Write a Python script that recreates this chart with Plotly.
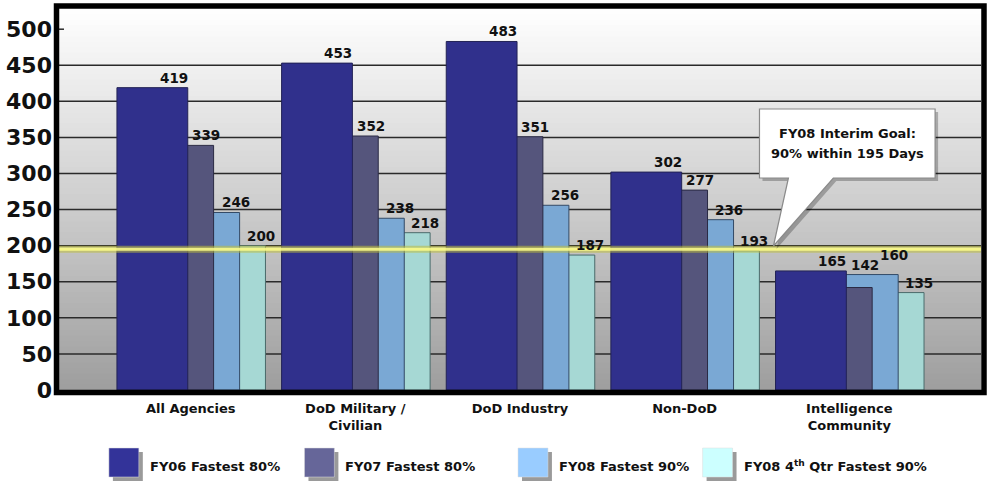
import plotly.graph_objects as go

# ---------------- data ----------------
categories = ["All Agencies", "DoD Military /<br>Civilian", "DoD Industry", "Non-DoD", "Intelligence<br>Community"]
series_names = ["FY06 Fastest 80%", "FY07 Fastest 80%", "FY08 Fastest 90%", "FY08 4<sup>th</sup> Qtr Fastest 90%"]
fy06 = [419, 453, 483, 302, 165]
fy07 = [339, 352, 351, 277, 142]
fy08 = [246, 238, 256, 236, 160]
fy08_q4 = [200, 218, 187, 193, 135]
goal_value = 195
goal_text = ["FY08 Interim Goal:", "90% within 195 Days"]
y_ticks = [0, 50, 100, 150, 200, 250, 300, 350, 400, 450, 500]

series_values = [fy06, fy07, fy08, fy08_q4]

# ---------------- style ----------------
W, H = 987, 481
ML, MR, MT, MB = 57, 6, 9, 91
PW, PH = W - ML - MR, H - MT - MB
X_RANGE = [-0.8, 4.8]
Y_RANGE = [0, 528]
bar_colors = ["#30308c", "#55557c", "#7aa8d4", "#a6d8d4"]
bar_lines = ["#222255", "#2a2a44", "#334a66", "#4a6a6a"]
legend_colors = ["#333399", "#666699", "#99ccff", "#ccffff"]
offsets = [-0.448, -0.291, -0.133, 0.024]
bar_w = 0.43
label_dx = [0.085, 0.045, 0.025, 0.03]
legend_px = [107, 303, 517, 702]
LABEL_FONT = 13.5


def px(xp):
    return (xp - ML) / PW


def py(yp):
    return (H - MB - yp) / PH


x_scale = PW / (X_RANGE[1] - X_RANGE[0])
y_scale = PH / (Y_RANGE[1] - Y_RANGE[0])

xs = list(range(len(categories)))
fig = go.Figure()

# back to front: Q4, FY08, FY07, FY06
for k in reversed(range(len(series_values))):
    fig.add_trace(go.Bar(
        x=xs, y=series_values[k], name=series_names[k],
        offset=offsets[k], width=bar_w,
        marker=dict(color=bar_colors[k], line=dict(color=bar_lines[k], width=1)),
        showlegend=False, hoverinfo="y",
    ))

annotations = []
# value labels (raised when they would collide with the previous series' label)
for i in xs:
    prev = None
    for k, vals in enumerate(series_values):
        v = vals[i]
        y_lab = v
        if k + 1 < len(series_values):
            y_lab = max(v, series_values[k + 1][i])
        x_lab = i + offsets[k] + bar_w - label_dx[k]
        shift = 0
        if prev is not None:
            px_dx = abs(x_lab - prev[0]) * x_scale
            px_dy = abs((y_lab - prev[1]) * y_scale + 0) - prev[2]
            if px_dx < 31 and abs((y_lab - prev[1]) * y_scale) < 14:
                shift = prev[2] + 10
        annotations.append(dict(
            x=x_lab, y=y_lab, xref="x", yref="y", yshift=shift,
            text=str(v), showarrow=False, yanchor="bottom", xanchor="center",
            font=dict(family="DejaVu Sans", size=LABEL_FONT, color="#111111", weight="bold"),
        ))
        prev = (x_lab, y_lab, shift)

shapes = []
# gradient background
N = 70
for j in range(N):
    t0, t1 = j / N, (j + 1) / N
    f = 1 - (t0 + t1) / 2  # 0 at top, 1 at bottom
    c = int(round(255 - f * 97))
    shapes.append(dict(type="rect", xref="paper", yref="paper", x0=0, x1=1, y0=t0, y1=t1 + 0.002,
                       fillcolor=f"rgb({c},{c},{c})", line=dict(width=0), layer="below"))
# gridlines
for v in y_ticks:
    if 0 < v < max(y_ticks):
        shapes.append(dict(type="line", xref="paper", yref="y", x0=0, x1=1, y0=v, y1=v,
                           line=dict(color="#2a2a2a", width=1.5), layer="below"))
# stub tick at top value
shapes.append(dict(type="line", xref="paper", yref="y", x0=0, x1=px(ML + 5), y0=max(y_ticks), y1=max(y_ticks),
                   line=dict(color="#2a2a2a", width=1.5), layer="below"))

# goal line
shapes.append(dict(type="line", xref="paper", yref="y", x0=0, x1=1, y0=goal_value, y1=goal_value,
                   line=dict(color="rgba(190,190,60,0.55)", width=7), layer="above"))
shapes.append(dict(type="line", xref="paper", yref="y", x0=0, x1=1, y0=goal_value, y1=goal_value,
                   line=dict(color="rgba(255,255,140,0.85)", width=3), layer="above"))

# callout bubble
bx0, bx1, by0, by1 = 759, 935, 109, 178
pb0, pb1, tipx, tipy = 788, 833, 773, 246


def bubble_path(dx=0, dy=0):
    pts = [(bx0, by0), (bx1, by0), (bx1, by1), (pb1, by1), (tipx, tipy), (pb0, by1), (bx0, by1)]
    s = "M " + " L ".join(f"{px(a + dx):.5f},{py(b + dy):.5f}" for a, b in pts) + " Z"
    return s


shapes.append(dict(type="path", xref="paper", yref="paper", path=bubble_path(3, 3),
                   fillcolor="rgba(0,0,0,0.25)", line=dict(width=0), layer="above"))
shapes.append(dict(type="path", xref="paper", yref="paper", path=bubble_path(),
                   fillcolor="white", line=dict(color="#8a8a8a", width=1.2), layer="above"))
for n, line_txt in enumerate(goal_text):
    annotations.append(dict(x=px(847), y=py(133 + 21 * n), xref="paper", yref="paper", text=line_txt,
                            showarrow=False, xanchor="center", yanchor="middle",
                            font=dict(family="DejaVu Sans", size=13, color="#111111", weight="bold")))

# frame
shapes.append(dict(type="rect", xref="paper", yref="paper",
                   x0=px(54.5), x1=px(984), y0=py(392.5), y1=py(6),
                   line=dict(color="black", width=5.5), fillcolor="rgba(0,0,0,0)", layer="above"))

# legend
for k, name in enumerate(series_names):
    x0 = legend_px[k]
    shapes.append(dict(type="rect", xref="paper", yref="paper", x0=px(x0 + 4), x1=px(x0 + 34),
                       y0=py(481), y1=py(452), fillcolor="#9a9a9a", line=dict(width=0)))
    shapes.append(dict(type="rect", xref="paper", yref="paper", x0=px(x0), x1=px(x0 + 30),
                       y0=py(477), y1=py(448), fillcolor=legend_colors[k],
                       line=dict(color="#dddddd", width=0.5)))
    annotations.append(dict(x=px(x0 + 39), y=py(466), xref="paper", yref="paper", text=name,
                            showarrow=False, xanchor="left", yanchor="middle",
                            font=dict(family="DejaVu Sans", size=13, color="#111111", weight="bold")))

fig.update_layout(
    width=W, height=H,
    margin=dict(l=ML, r=MR, t=MT, b=MB, pad=0),
    barmode="overlay",
    paper_bgcolor="white", plot_bgcolor="white",
    xaxis=dict(range=X_RANGE, tickvals=xs, ticktext=categories, showgrid=False, zeroline=False,
               ticks="", showline=False, ticklabelstandoff=9,
               tickfont=dict(family="DejaVu Sans", size=13, color="#111111", weight="bold")),
    yaxis=dict(range=Y_RANGE, tickvals=y_ticks, ticktext=[str(v) for v in y_ticks], showgrid=False,
               zeroline=False, ticks="", showline=False, ticklabelstandoff=6,
               tickfont=dict(family="DejaVu Sans", size=22, color="#111111", weight="bold")),
    shapes=shapes, annotations=annotations,
    showlegend=False,
)

fig.write_html("out.html")
